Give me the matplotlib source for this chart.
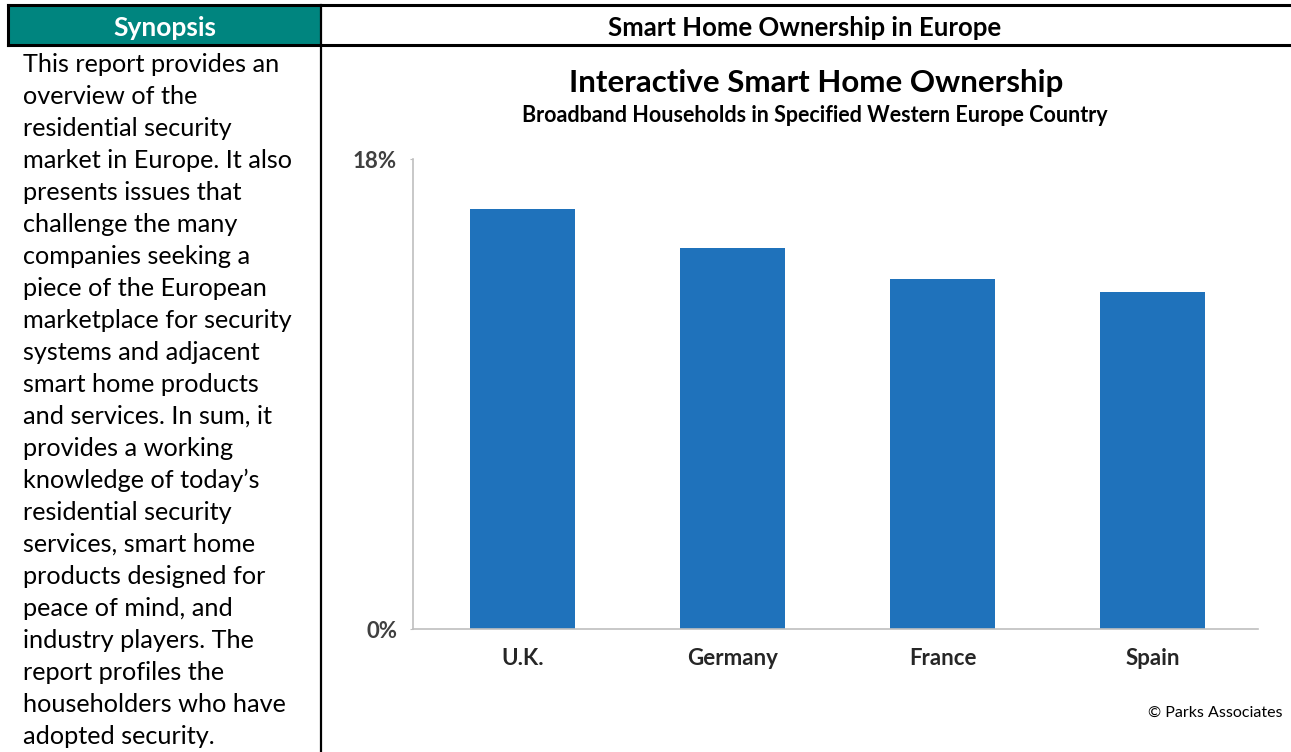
import matplotlib.pyplot as plt
from matplotlib.lines import Line2D
from matplotlib.patches import Rectangle

### DATA
countries = ['U.K.', 'Germany', 'France', 'Spain']
ownership = [16.1, 14.6, 13.4, 12.9]  # % of broadband households
yticks = [0, 18]
ytick_labels = ['0%', '18%']

synopsis_lines = [
    'This report provides an',
    'overview of the',
    'residential security',
    'market in Europe. It also',
    'presents issues that',
    'challenge the many',
    'companies seeking a',
    'piece of the European',
    'marketplace for security',
    'systems and adjacent',
    'smart home products',
    'and services. In sum, it',
    'provides a working',
    'knowledge of today\u2019s',
    'residential security',
    'services, smart home',
    'products designed for',
    'peace of mind, and',
    'industry players. The',
    'report profiles the',
    'householders who have',
    'adopted security.',
]

### LAYOUT
W, H = 1291, 752
TEAL = '#00857F'
BLUE = '#1F72BB'
FONT = 'Lato'


def fx(px):
    return px / W


def fy(py):
    return 1 - py / H


fig = plt.figure(figsize=(W / 100, H / 100), dpi=100)

# header band
fig.add_artist(Rectangle((fx(8), fy(45)), fx(321) - fx(8), fy(5) - fy(45),
                         transform=fig.transFigure, facecolor=TEAL, edgecolor='none'))
fig.add_artist(Line2D([fx(8), fx(W)], [fy(5), fy(5)], transform=fig.transFigure, color='black', lw=2.2))
fig.add_artist(Line2D([fx(8), fx(W)], [fy(45), fy(45)], transform=fig.transFigure, color='black', lw=2.2))
fig.add_artist(Line2D([fx(8), fx(8)], [fy(5), fy(45)], transform=fig.transFigure, color='black', lw=2.2))
fig.add_artist(Line2D([fx(321), fx(321)], [fy(5), fy(H)], transform=fig.transFigure, color='black', lw=1.6))

fig.text(fx(165), fy(28), 'Synopsis', color='white', fontsize=19, fontweight='bold',
         family=FONT, ha='center', va='center')
fig.text(fx(805), fy(28), 'Smart Home Ownership in Europe', color='black', fontsize=18.5,
         fontweight='bold', family=FONT, ha='center', va='center')

for i, line in enumerate(synopsis_lines):
    fig.text(fx(23), fy(72 + 32 * i), line, fontsize=18.2, family=FONT,
             ha='left', va='baseline', color='black')

# chart titles
fig.text(fx(816), fy(83), 'Interactive Smart Home Ownership', fontsize=22.5, fontweight='bold',
         family=FONT, ha='center', va='center', color='black')
fig.text(fx(815), fy(116), 'Broadband Households in Specified Western Europe Country', fontsize=15.5,
         fontweight='bold', family=FONT, ha='center', va='center', color='black')

### CHART
ax = fig.add_axes([fx(413), fy(629), fx(1258) - fx(413), fy(159) - fy(629)])
ax.bar(range(len(countries)), ownership, width=0.5, color=BLUE)
ax.set_xlim(-0.52, len(countries) - 0.5)
ax.set_ylim(0, 18)

ax.set_yticks(yticks)
ax.set_yticklabels(ytick_labels)
ax.set_xticks(range(len(countries)))
ax.set_xticklabels(countries)

for side in ['top', 'right']:
    ax.spines[side].set_visible(False)
for side in ['left', 'bottom']:
    ax.spines[side].set_color('#BFBFBF')
    ax.spines[side].set_linewidth(1.2)

ax.tick_params(axis='y', length=2.5, color='#BFBFBF', pad=9, labelsize=16, labelcolor='#404040')
ax.tick_params(axis='x', length=0, pad=14, labelsize=16, labelcolor='#262626')
for lbl in ax.get_yticklabels() + ax.get_xticklabels():
    lbl.set_fontweight('bold')
    lbl.set_family(FONT)

fig.text(fx(1283), fy(713), '\u00a9 Parks Associates', fontsize=11.5, family=FONT,
         ha='right', va='center', color='black')

fig.savefig('out.png', dpi=100)
